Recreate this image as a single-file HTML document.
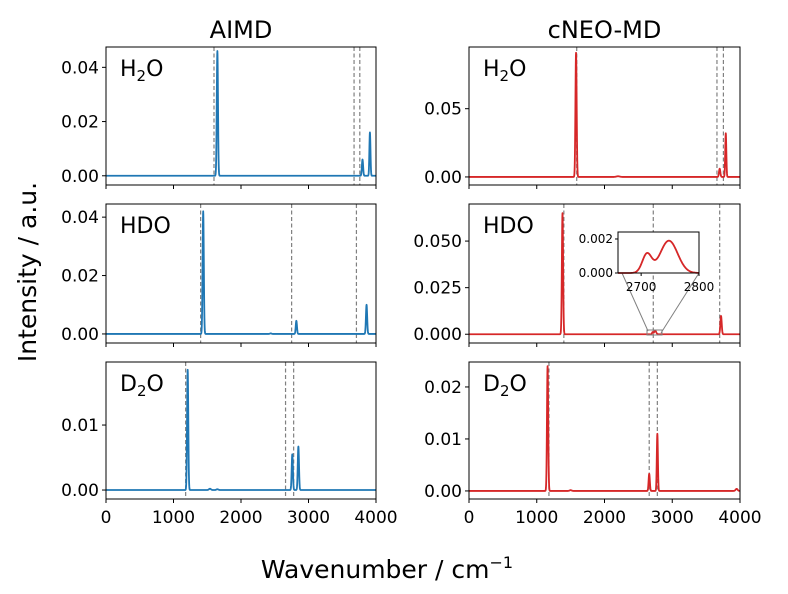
<!DOCTYPE html>
<html><head><meta charset="utf-8"><style>
html,body{margin:0;padding:0;background:#fff;}
svg{display:block;font-family:"DejaVu Sans","Liberation Sans",sans-serif;}
</style></head><body>
<svg id="chart" width="788" height="594" viewBox="0 0 788 594"></svg>
<script>
// ---- data ----
const xTicks = [0, 1000, 2000, 3000, 4000];
const columnTitles = ["AIMD", "cNEO-MD"];
const molecules = ["H2O", "HDO", "D2O"];
// peaks: [center cm-1, height, half-width cm-1]
const aimdH2O = [[1650, 0.046, 9], [3800, 0.006, 9], [3910, 0.016, 8]];
const aimdHDO = [[1440, 0.042, 9], [2820, 0.0045, 9], [3860, 0.010, 9], [2440, 0.0002, 12]];
const aimdD2O = [[1210, 0.0185, 9], [2760, 0.0055, 9], [2850, 0.0067, 9], [1540, 0.0002, 15], [1650, 0.00012, 15]];
const neoH2O = [[1580, 0.091, 9], [3700, 0.006, 10], [3790, 0.032, 8], [2200, 0.0005, 25]];
const neoHDO = [[1380, 0.065, 9], [3720, 0.0098, 10], [2710, 0.0011, 8], [2748, 0.0019, 15]];
const neoD2O = [[1160, 0.024, 9], [2660, 0.0033, 9], [2780, 0.011, 8], [3950, 0.0004, 15], [1500, 0.00015, 15]];
const aimdRefs = [[1600, 3675, 3760], [1402, 2750, 3710], [1180, 2660, 2780]];
const neoRefs = [[1590, 3660, 3755], [1400, 2720, 3700], [1180, 2660, 2780]];
const aimdYTicks = [[0, 0.02, 0.04], [0, 0.02, 0.04], [0, 0.01]];
const neoYTicks = [[0, 0.05], [0, 0.025, 0.05], [0, 0.01, 0.02]];
const aimdYRange = [[-0.0034, 0.0475], [-0.0031, 0.0445], [-0.00138, 0.0197]];
const neoYRange = [[-0.0059, 0.0952], [-0.0047, 0.0699], [-0.00155, 0.0248]];
const insetXTicks = [2700, 2800];
const insetYTicks = [0, 0.002];

const NS = "http://www.w3.org/2000/svg";
const svg = document.getElementById("chart");
function mk(tag, attrs, parent) {
  const e = document.createElementNS(NS, tag);
  for (const k in attrs) e.setAttribute(k, attrs[k]);
  (parent || svg).appendChild(e);
  return e;
}
function spectrum(peaks, x) {
  let s = 0;
  for (const p of peaks) { const d = (x - p[0]) / p[2]; s += p[1] * Math.exp(-0.5 * d * d); }
  return s;
}
const cols = [{x0: 106, x1: 376}, {x0: 469, x1: 740}];
const rows = [{y0: 47, y1: 185}, {y0: 204, y1: 343}, {y0: 362, y1: 499}];
const allPeaks = [[aimdH2O, aimdHDO, aimdD2O], [neoH2O, neoHDO, neoD2O]];
const allRefs = [aimdRefs, neoRefs];
const allYT = [aimdYTicks, neoYTicks];
const allYR = [aimdYRange, neoYRange];
const colors = ["#1f77b4", "#d62728"];
const labels = [["H", "2", "O"], ["HDO"], ["D", "2", "O"]];

for (let c = 0; c < 2; c++) {
  const t = mk("text", {x: (cols[c].x0 + cols[c].x1) / 2, y: 38, "font-size": 24, "text-anchor": "middle", fill: "#000"});
  
  
  t.textContent = columnTitles[c];
  for (let r = 0; r < 3; r++) {
    const {x0, x1} = cols[c], {y0, y1} = rows[r];
    const [ymin, ymax] = allYR[c][r];
    const sx = v => x0 + (v - 0) / 4000 * (x1 - x0);
    const sy = v => y1 - (v - ymin) / (ymax - ymin) * (y1 - y0);
    const g = mk("g", {});
    
    
    for (const v of allRefs[c][r]) {
      const l = mk("line", {x1: sx(v), x2: sx(v), y1: y0, y2: y1, stroke: "#808080", "stroke-width": 1.2, "stroke-dasharray": "4,2.5"}, g);
      
      
    }
    let d = "";
    for (let x = 0; x <= 4000; x += 2) d += (x ? "L" : "M") + sx(x).toFixed(2) + "," + sy(spectrum(allPeaks[c][r], x)).toFixed(2);
    const p = mk("path", {d, fill: "none", stroke: colors[c], "stroke-width": 1.8, "stroke-linejoin": "round"}, g);
    
    
    const fr = mk("rect", {x: x0, y: y0, width: x1 - x0, height: y1 - y0, fill: "none", stroke: "#000", "stroke-width": 1}, g);
    
    
    for (const v of allYT[c][r]) {
      const yy = sy(v);
      mk("line", {x1: x0 - 4, x2: x0, y1: yy, y2: yy, stroke: "#000"}, g);
      const decimals = (c === 1 && r === 1) ? 3 : 2;
      const tl = mk("text", {x: x0 - 7, y: yy + 6, "font-size": 17, "text-anchor": "end"}, g);
      
      
      tl.textContent = v.toFixed(decimals);
    }
    for (const v of xTicks) {
      mk("line", {x1: sx(v), x2: sx(v), y1: y1, y2: y1 + 4, stroke: "#000"}, g);
      if (r === 2) {
        const tl = mk("text", {x: sx(v), y: y1 + 24, "font-size": 17, "text-anchor": "middle"}, g);
        
        
        tl.textContent = v;
      }
    }
    const ml = mk("text", {x: x0 + 14, y: y0 + 29, "font-size": 22}, g);
    
    
    const lab = labels[r];
    const t1 = mk("tspan", {}, ml); t1.textContent = lab[0];
    if (lab.length > 1) {
      const t2 = mk("tspan", {"font-size": 15, dy: 5}, ml); t2.textContent = lab[1];
      const t3 = mk("tspan", {dy: -5}, ml); t3.textContent = lab[2];
    }
  }
}
// ---- inset ----
(function () {
  const ix0 = 618, ix1 = 699, iy0 = 232, iy1 = 273;
  const xmin = 2660, xmax = 2800, ymin = 0, ymax = 0.00241;
  const sx = v => ix0 + (v - xmin) / (xmax - xmin) * (ix1 - ix0);
  const sy = v => iy1 - (v - ymin) / (ymax - ymin) * (iy1 - iy0);
  const g = mk("g", {});
  
  
  mk("rect", {x: 647, y: 330, width: 15, height: 5, fill: "none", stroke: "#808080", "stroke-width": 1}, g);
  mk("line", {x1: ix0 + 4, y1: iy1, x2: 648, y2: 331, stroke: "#808080", "stroke-width": 1}, g);
  mk("line", {x1: ix1, y1: iy1, x2: 661, y2: 333, stroke: "#808080", "stroke-width": 1}, g);
  mk("rect", {x: ix0, y: iy0, width: ix1 - ix0, height: iy1 - iy0, fill: "#fff"}, g);
  let d = "";
  for (let x = xmin; x <= xmax; x += 1) d += (x === xmin ? "M" : "L") + sx(x).toFixed(2) + "," + sy(spectrum(neoHDO, x)).toFixed(2);
  const p = mk("path", {d, fill: "none", stroke: colors[1], "stroke-width": 1.8}, g);
  
  
  mk("rect", {x: ix0, y: iy0, width: ix1 - ix0, height: iy1 - iy0, fill: "none", stroke: "#000"}, g);
  for (const v of insetYTicks) {
    mk("line", {x1: ix0 - 3, x2: ix0, y1: sy(v), y2: sy(v), stroke: "#000"}, g);
    const t = mk("text", {x: ix0 - 5, y: sy(v) + 4, "font-size": 12, "text-anchor": "end"}, g);
    
    
    t.textContent = v.toFixed(3);
  }
  for (const v of insetXTicks) {
    mk("line", {x1: sx(v), x2: sx(v), y1: iy1, y2: iy1 + 3, stroke: "#000"}, g);
    const t = mk("text", {x: sx(v), y: iy1 + 18, "font-size": 12, "text-anchor": "middle"}, g);
    
    
    t.textContent = v;
  }
})();
const yt = mk("text", {x: 0, y: 0, "font-size": 25, "text-anchor": "middle", transform: "translate(36,272) rotate(-90)"});


yt.textContent = "Intensity / a.u.";
const xt = mk("text", {x: 387, y: 578, "font-size": 25, "text-anchor": "middle"});


xt.textContent = "Wavenumber / cm";
const sup = mk("tspan", {"font-size": 16, dy: -10}, xt); sup.textContent = "−1";
</script>
</body></html>
